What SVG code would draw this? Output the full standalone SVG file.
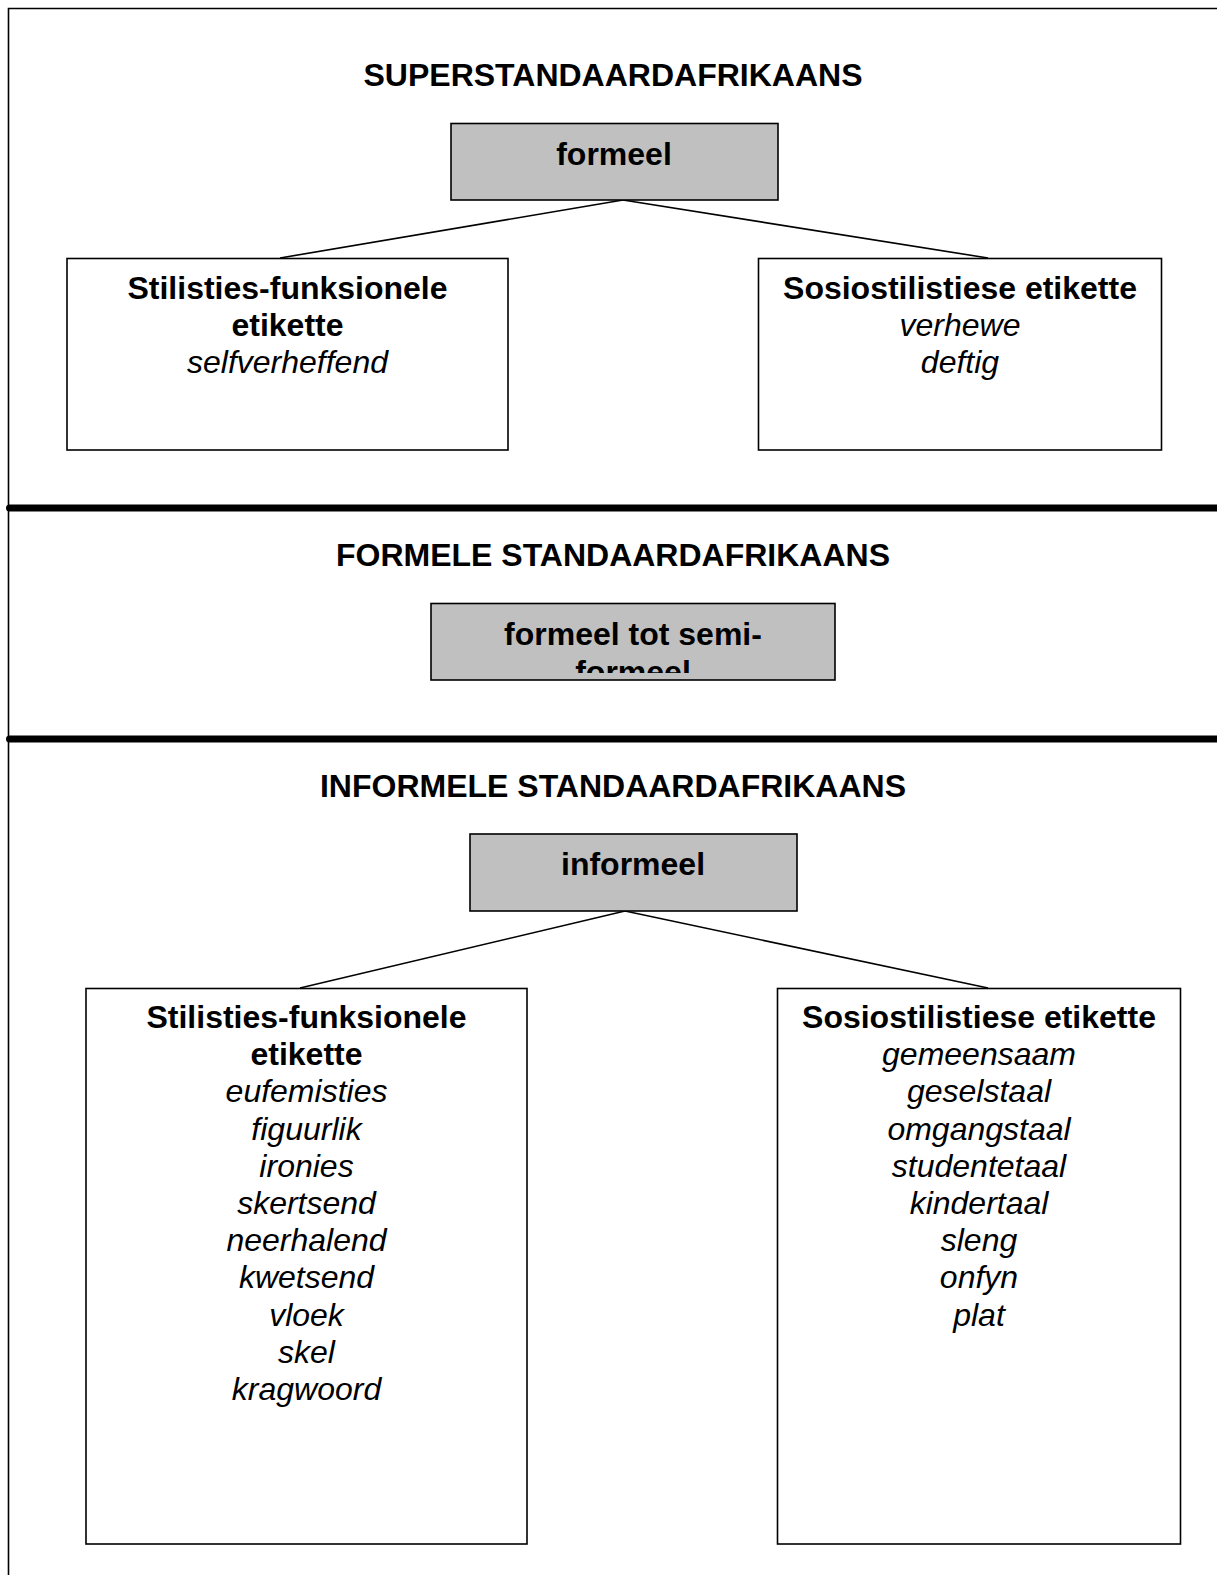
<svg xmlns="http://www.w3.org/2000/svg" width="1217" height="1575" viewBox="0 0 1217 1575">
<style>
  text { font-family: "Liberation Sans", Arial, sans-serif; font-size: 32px; fill: #000; text-anchor: middle; }
  .b { font-weight: bold; }
  .i { font-style: italic; }
  .box { fill: #fff; stroke: #000; stroke-width: 1.6; }
  .grey { fill: #c0c0c0; stroke: #000; stroke-width: 1.6; }
  .conn { stroke: #000; stroke-width: 1.6; fill: none; }
  .sep { stroke: #000; stroke-width: 7; stroke-linecap: round; }
  .frame { stroke: #000; stroke-width: 1.6; fill: none; }
</style>
<defs>
  <clipPath id="clipMid"><rect x="432" y="604" width="402" height="69"/></clipPath>
</defs>
<rect width="1217" height="1575" fill="#fff"/>
<g id="frame">
  <path class="frame" d="M8.5 1575 V8.5 H1217"/>
  <line class="sep" x1="9.5" y1="508" x2="1230" y2="508"/>
  <line class="sep" x1="9.5" y1="739" x2="1230" y2="739"/>
</g>
<g id="connectors">
  <line class="conn" x1="623" y1="200" x2="280" y2="258"/>
  <line class="conn" x1="623" y1="200" x2="988" y2="258"/>
  <line class="conn" x1="625" y1="911" x2="300" y2="988"/>
  <line class="conn" x1="625" y1="911" x2="988" y2="988"/>
</g>
<g id="title-super"><text class="b" x="613" y="86">SUPERSTANDAARDAFRIKAANS</text></g>
<g id="title-formele"><text class="b" x="613" y="566">FORMELE STANDAARDAFRIKAANS</text></g>
<g id="title-informele"><text class="b" x="613" y="797">INFORMELE STANDAARDAFRIKAANS</text></g>
<g id="node-formeel">
  <rect class="grey" x="451" y="123.5" width="327" height="76.5"/>
  <text class="b" x="614" y="165">formeel</text>
</g>
<g id="node-top-left">
  <rect class="box" x="67" y="258.5" width="441" height="191.5"/>
  <text class="b" x="287.5" y="299">Stilisties-funksionele</text>
  <text class="b" x="287.5" y="336">etikette</text>
  <text class="i" x="287.5" y="373">selfverheffend</text>
</g>
<g id="node-top-right">
  <rect class="box" x="758.5" y="258.5" width="403" height="191.5"/>
  <text class="b" x="960" y="299">Sosiostilistiese etikette</text>
  <text class="i" x="960" y="336">verhewe</text>
  <text class="i" x="960" y="373">deftig</text>
</g>
<g id="node-formeel-semi">
  <rect class="grey" x="431" y="603.5" width="404" height="76.5"/>
  <g clip-path="url(#clipMid)">
    <text class="b" x="633" y="645">formeel tot semi-</text>
    <text class="b" x="633" y="683">formeel</text>
  </g>
</g>
<g id="node-informeel">
  <rect class="grey" x="470" y="834" width="327" height="77"/>
  <text class="b" x="633" y="875">informeel</text>
</g>
<g id="node-bottom-left">
  <rect class="box" x="86" y="988.5" width="441" height="555.5"/>
  <text class="b" x="306.5" y="1028">Stilisties-funksionele</text>
  <text class="b" x="306.5" y="1065.2">etikette</text>
  <text class="i" x="306.5" y="1102.4">eufemisties</text>
  <text class="i" x="306.5" y="1139.6">figuurlik</text>
  <text class="i" x="306.5" y="1176.8">ironies</text>
  <text class="i" x="306.5" y="1214">skertsend</text>
  <text class="i" x="306.5" y="1251.2">neerhalend</text>
  <text class="i" x="306.5" y="1288.4">kwetsend</text>
  <text class="i" x="306.5" y="1325.6">vloek</text>
  <text class="i" x="306.5" y="1362.8">skel</text>
  <text class="i" x="306.5" y="1400">kragwoord</text>
</g>
<g id="node-bottom-right">
  <rect class="box" x="777.5" y="988.5" width="403" height="555.5"/>
  <text class="b" x="979" y="1028">Sosiostilistiese etikette</text>
  <text class="i" x="979" y="1065.2">gemeensaam</text>
  <text class="i" x="979" y="1102.4">geselstaal</text>
  <text class="i" x="979" y="1139.6">omgangstaal</text>
  <text class="i" x="979" y="1176.8">studentetaal</text>
  <text class="i" x="979" y="1214">kindertaal</text>
  <text class="i" x="979" y="1251.2">sleng</text>
  <text class="i" x="979" y="1288.4">onfyn</text>
  <text class="i" x="979" y="1325.6">plat</text>
</g>
</svg>
